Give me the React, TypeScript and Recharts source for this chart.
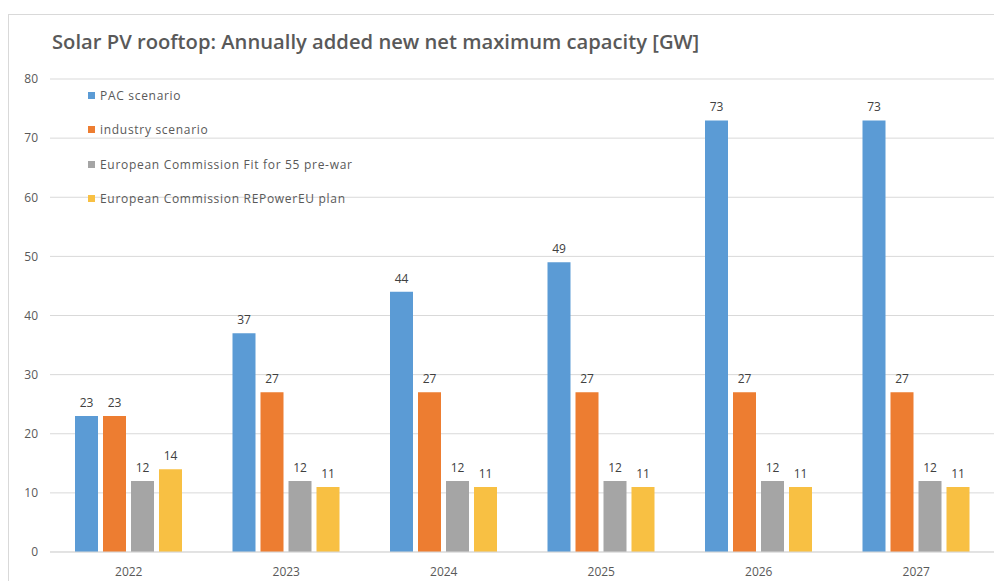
import React from "react";
import { BarChart, Bar, XAxis, YAxis, CartesianGrid, LabelList } from "recharts";

// Annually added new net maximum capacity of rooftop solar PV, in GW
const years = ["2022", "2023", "2024", "2025", "2026", "2027"];
const pacScenario = [23, 37, 44, 49, 73, 73];
const industryScenario = [23, 27, 27, 27, 27, 27];
const fitFor55 = [12, 12, 12, 12, 12, 12];
const rePowerEU = [14, 11, 11, 11, 11, 11];
const yTicks = [0, 10, 20, 30, 40, 50, 60, 70, 80];

const seriesDefs = [
  { key: "pac", name: "PAC scenario", color: "#5B9BD5" },
  { key: "industry", name: "industry scenario", color: "#ED7D31" },
  { key: "fit55", name: "European Commission Fit for 55 pre-war", color: "#A5A5A5" },
  { key: "repower", name: "European Commission REPowerEU plan", color: "#F8C043" },
];

const data = years.map((year, i) => ({
  year,
  pac: pacScenario[i],
  industry: industryScenario[i],
  fit55: fitFor55[i],
  repower: rePowerEU[i],
}));

const FONT = "'Open Sans', 'Liberation Sans', sans-serif";

// Series key placed inside the plot, upper left
const LegendBox = () => (
  <div
    style={{
      position: "absolute",
      left: 80,
      top: 70,
      fontFamily: FONT,
      fontSize: 12,
      letterSpacing: 0.7,
      color: "#595959",
    }}
  >
    {seriesDefs.map((s) => (
      <div key={s.key} style={{ display: "flex", alignItems: "center", height: 34.5 }}>
        <span style={{ width: 7, height: 7, background: s.color, marginRight: 5, display: "inline-block" }} />
        <span>{s.name}</span>
      </div>
    ))}
  </div>
);

export default function App() {
  return (
    <div style={{ position: "relative", width: 994, height: 573, overflow: "hidden", background: "#fff" }}>
      <div
        style={{
          position: "absolute",
          left: 0,
          top: 6,
          width: 1100,
          height: 700,
          borderTop: "1px solid #d9d9d9",
          borderLeft: "1px solid #d9d9d9",
        }}
      />
      <div
        style={{
          position: "absolute",
          left: 44,
          top: 19,
          fontFamily: FONT,
          fontWeight: 600,
          fontSize: 20.2,
          color: "#595959",
          whiteSpace: "nowrap",
        }}
      >
        Solar PV rooftop: Annually added new net maximum capacity [GW]
      </div>
      <BarChart
        width={994}
        height={573}
        data={data}
        margin={{ top: 71, right: 7, bottom: 0, left: 0 }}
        barSize={23}
        barGap={5}
        style={{ position: "absolute", left: 0, top: 0 }}
      >
        <CartesianGrid vertical={false} stroke="#d9d9d9" />
        <XAxis
          dataKey="year"
          height={29}
          axisLine={{ stroke: "#d9d9d9" }}
          tickLine={false}
          tickMargin={9}
          tick={{ fontSize: 12, fill: "#595959", fontFamily: FONT }}
        />
        <YAxis
          width={42}
          domain={[0, 80]}
          ticks={yTicks}
          axisLine={false}
          tickLine={false}
          tickSize={0}
          tickMargin={12}
          tick={{ fontSize: 12, fill: "#595959", fontFamily: FONT }}
        />
        {seriesDefs.map((s) => (
          <Bar key={s.key} dataKey={s.key} name={s.name} fill={s.color} isAnimationActive={false}>
            <LabelList
              dataKey={s.key}
              position="top"
              offset={9}
              style={{ fontSize: 12, fill: "#404040", fontFamily: FONT }}
            />
          </Bar>
        ))}
      </BarChart>
      <LegendBox />
    </div>
  );
}
